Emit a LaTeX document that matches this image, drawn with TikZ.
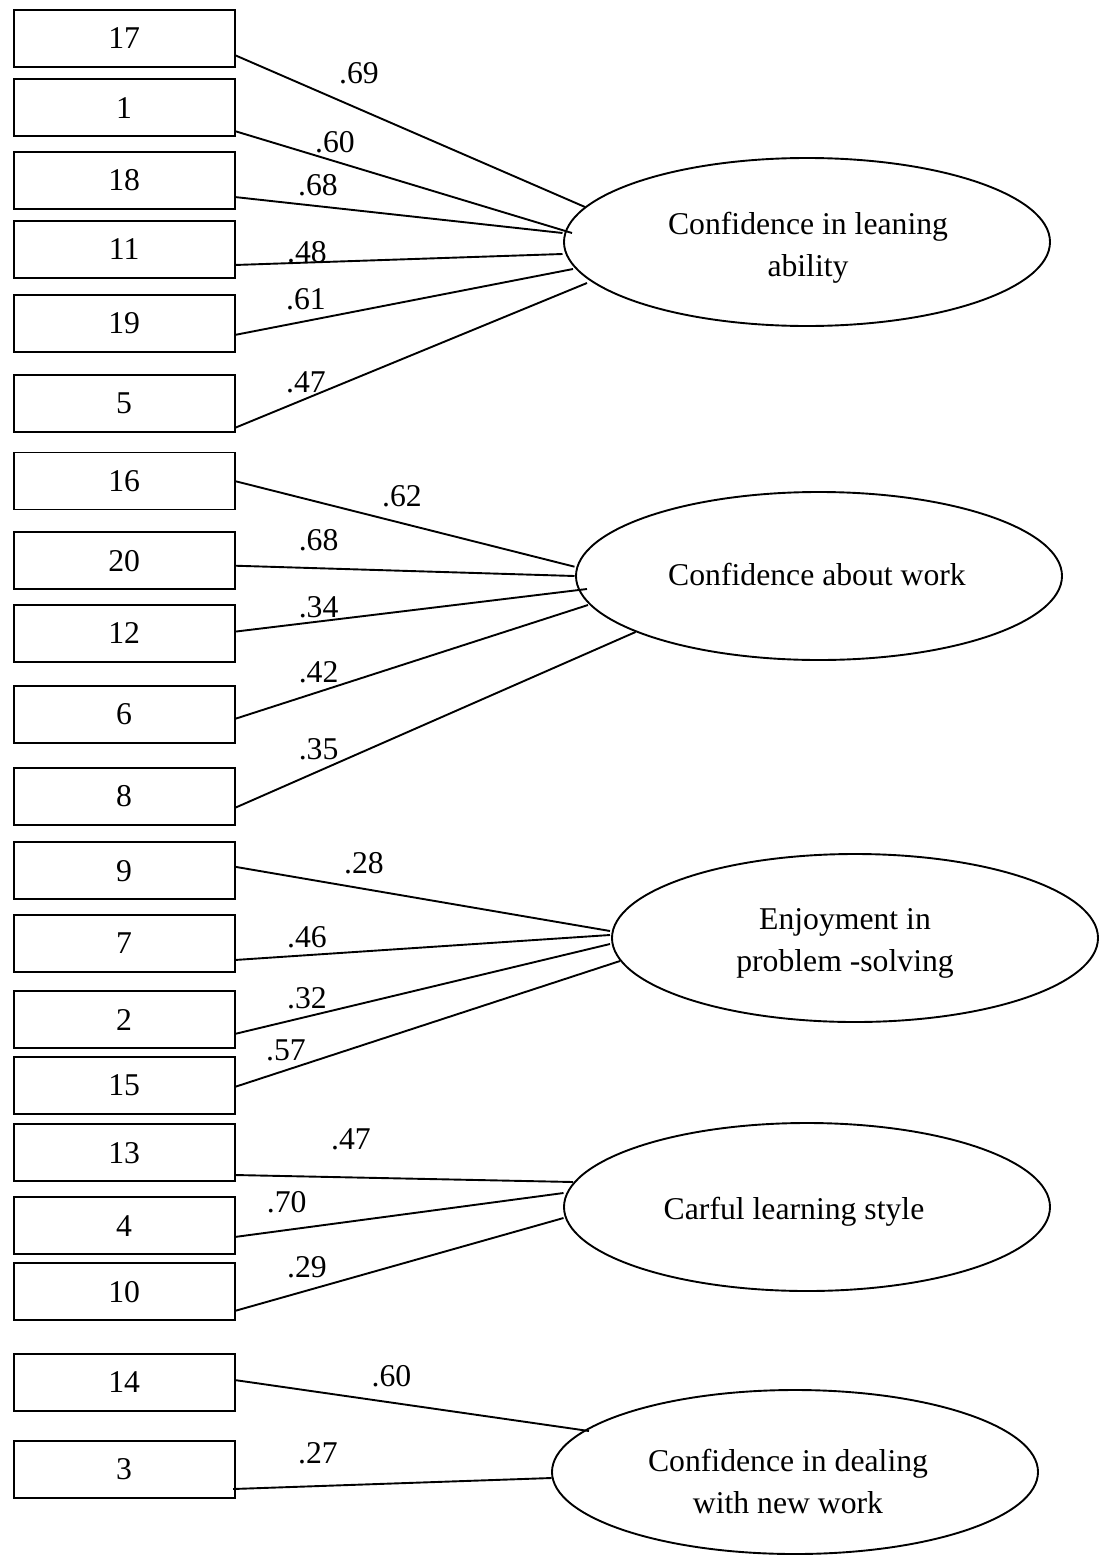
\documentclass[tikz,border=0pt]{standalone}
\usepackage{fontspec}
\setmainfont{Liberation Serif}
\usetikzlibrary{calc,shapes.geometric}
\begin{document}
\begin{tikzpicture}[x=1pt,y=-1pt,
  every node/.style={font=\fontsize{31.7pt}{42pt}\selectfont, text=black},
  item/.style={draw, line width=1.9pt, minimum width=221pt, minimum height=57pt, inner sep=0pt, outer sep=0pt},
  factor/.style={draw, ellipse, line width=1.9pt, minimum width=486pt, minimum height=168pt, inner sep=0pt, outer sep=0pt},
  loading/.style={inner sep=0pt, text height=21.4pt, text depth=0pt},
  ftext/.style={align=center, inner sep=0pt},
  link/.style={line width=1.9pt}]
\useasboundingbox (0,0) rectangle (1104,1555);

% observed items
\node[item] (b17) at (124.1,38.5)  {17};
\node[item] (b1)  at (124.1,107.7) {1};
\node[item] (b18) at (124.1,180.2) {18};
\node[item] (b11) at (124.1,249.4) {11};
\node[item] (b19) at (124.1,323.2) {19};
\node[item] (b5)  at (124.1,403.5) {5};
\node[item] (b16) at (124.1,481)   {16};
\node[item] (b20) at (124.1,560.7) {20};
\node[item] (b12) at (124.1,633.4) {12};
\node[item] (b6)  at (124.1,714.2) {6};
\node[item] (b8)  at (124.1,796.4) {8};
\node[item] (b9)  at (124.1,870.7) {9};
\node[item] (b7)  at (124.1,943.4) {7};
\node[item] (b2)  at (124.1,1019.5) {2};
\node[item] (b15) at (124.1,1085.4) {15};
\node[item] (b13) at (124.1,1152.9) {13};
\node[item] (b4)  at (124.1,1225.7) {4};
\node[item] (b10) at (124.1,1291.7) {10};
\node[item] (b14) at (124.1,1382.4) {14};
\node[item] (b3)  at (124.1,1469.4) {3};

% latent factors
\node[factor] (e1) at (807,242)  {};
\node[factor] (e2) at (819,576)  {};
\node[factor] (e3) at (855,938)  {};
\node[factor] (e4) at (807,1207) {};
\node[factor, minimum height=164pt] (e5) at (795,1472) {};

\node[ftext] (t1) at (808,247.5) {Confidence in leaning\\ability};
\node[ftext] (t2) at (817,574)   {Confidence about work};
\node[ftext] (t3) at (845,943.5) {Enjoyment in\\problem -solving};
\node[ftext] (t4) at (794,1212)  {Carful learning style};
\node[ftext] (t5) at (788,1481)  {Confidence in dealing\\with new work};

% factor loadings
\draw[link] ($(b17.east)+(0,16.5)$) -- ($(e1.center)+(-222,-35)$);
\draw[link] ($(b1.east)+(0,23.3)$)  -- ($(e1.center)+(-235,-9)$);
\draw[link] ($(b18.east)+(0,16.8)$) -- ($(e1.center)+(-244.5,-9)$);
\draw[link] ($(b11.east)+(0,15.6)$) -- ($(e1.center)+(-244.5,12)$);
\draw[link] ($(b19.east)+(0,11.8)$) -- ($(e1.center)+(-234,27)$);
\draw[link] ($(b5.east)+(0,24.5)$)  -- ($(e1.center)+(-220,41)$);

\draw[link] ($(b16.east)+(0,0)$)    -- ($(e2.center)+(-244.5,-9.3)$);
\draw[link] ($(b20.east)+(0,5)$)    -- ($(e2.center)+(-244.5,0)$);
\draw[link] ($(b12.east)+(0,-1.7)$) -- ($(e2.center)+(-232,13)$);
\draw[link] ($(b6.east)+(0,4.8)$)   -- ($(e2.center)+(-231,29)$);
\draw[link] ($(b8.east)+(0,11.6)$)  -- ($(e2.center)+(-183.4,56)$);

\draw[link] ($(b9.east)+(0,-4)$)    -- ($(e3.center)+(-245,-7)$);
\draw[link] ($(b7.east)+(0,16.6)$)  -- ($(e3.center)+(-245,-3)$);
\draw[link] ($(b2.east)+(0,14.5)$)  -- ($(e3.center)+(-245,6)$);
\draw[link] ($(b15.east)+(0,1.6)$)  -- ($(e3.center)+(-235,23)$);

\draw[link] ($(b13.east)+(0,22.1)$) -- ($(e4.center)+(-234,-25)$);
\draw[link] ($(b4.east)+(0,11.3)$)  -- ($(e4.center)+(-243.5,-14)$);
\draw[link] ($(b10.east)+(0,19.3)$) -- ($(e4.center)+(-243.5,11)$);

\draw[link] ($(b14.east)+(0,-2.4)$) -- ($(e5.center)+(-206,-41)$);
\draw[link] ($(b3.east)+(-1.5,19.6)$) -- ($(e5.center)+(-243.4,6)$);

% loading values
\node[loading] (l17) at (359,73)    {.69};
\node[loading] (l1)  at (335,142)   {.60};
\node[loading] (l18) at (318,185)   {.68};
\node[loading] (l11) at (307,252)   {.48};
\node[loading] (l19) at (306,299)   {.61};
\node[loading] (l5)  at (306,382)   {.47};
\node[loading] (l16) at (402,496)   {.62};
\node[loading] (l20) at (318.6,540) {.68};
\node[loading] (l12) at (318.6,606.7) {.34};
\node[loading] (l6)  at (318.6,672) {.42};
\node[loading] (l8)  at (318.6,749) {.35};
\node[loading] (l9)  at (364,863)   {.28};
\node[loading] (l7)  at (307,936.7) {.46};
\node[loading] (l2)  at (307,998)   {.32};
\node[loading] (l15) at (286,1050)  {.57};
\node[loading] (l13) at (351,1139)  {.47};
\node[loading] (l4)  at (286.7,1201.7) {.70};
\node[loading] (l10) at (307,1266.7) {.29};
\node[loading] (l14) at (391.5,1376) {.60};
\node[loading] (l3)  at (318,1453)  {.27};
\end{tikzpicture}
\end{document}
